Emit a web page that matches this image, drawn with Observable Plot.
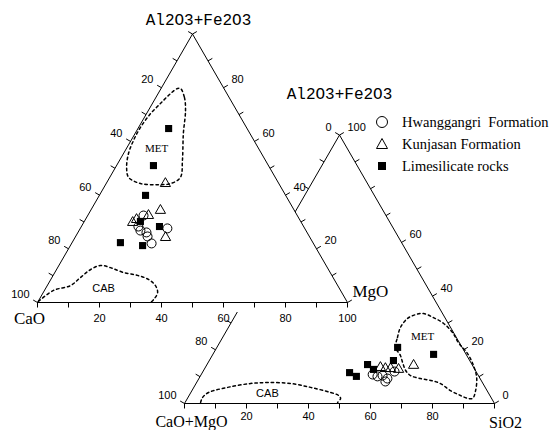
<!DOCTYPE html>
<html><head><meta charset="utf-8">
<script src="https://cdn.jsdelivr.net/npm/d3@7"></script>
<script src="https://cdn.jsdelivr.net/npm/@observablehq/plot@0.6"></script>
<style>
body{margin:0;background:#fff;}
#wrap{position:relative;width:557px;height:430px;overflow:hidden;}
#legend{position:absolute;left:374px;top:111px;font-family:"Liberation Serif",serif;font-size:14.5px;color:#000;}
.row{display:flex;align-items:center;height:22px;white-space:pre;}
.row svg{width:16px;height:16px;margin-right:12px;flex:none;}
</style></head><body><div id="wrap"><div id="chart"></div><div id="legend"></div></div>
<script>
// ---------- DATA ----------
const groups = ["Hwanggangri  Formation", "Kunjasan Formation", "Limesilicate rocks"];
const tickValues = [0,10,20,30,40,50,60,70,80,90,100];
// Diagram A : CaO - MgO - Al2O3+Fe2O3   pairs = [MgO, Al2O3+Fe2O3] (CaO = rest)
const aHwang = [[18.0,32.4],[28.1,27.6],[18.4,28.3],[19.8,26.8],[22.1,26.1],[23.2,24.6],[25.8,22.0]];
const aKunj  = [[19.1,44.3],[22.5,34.3],[19.6,32.4],[15.8,29.8],[16.5,30.9],[29.2,24.2]];
const aLime  = [[9.9,64.8],[11.9,51.0],[14.9,39.9],[18.1,30.2],[25.2,28.3],[15.6,22.3],[23.3,21.2]];
const aMET = [[6.3,79.7],[9.2,76.4],[12.0,71.5],[15.6,62.9],[20.3,52.9],[22.8,46.6],[20.8,44.3],[16.8,43.9],[11.1,44.3],[6.1,46.6],[3.6,50.3],[1.6,55.5],[0.8,60.3],[0.6,65.2],[1.3,70.4],[2.6,74.1],[4.0,77.8],[5.3,79.7]];
const aCAB = [[0.1,0.4],[2.9,4.5],[7.5,6.3],[9.2,9.3],[11.0,12.3],[13.4,13.8],[17.0,13.0],[22.1,11.2],[27.2,10.1],[31.5,8.6],[34.9,6.3],[36.9,3.7],[37.0,1.5],[36.5,0]];
const aLabels = {base:[20,40,60,80,100], left:[20,40,60,80,100], right:[80,60,40,20]};
// Diagram B : CaO+MgO - SiO2 - Al2O3+Fe2O3   pairs = [SiO2, Al2O3+Fe2O3]
const bHwang = [[55.3,10.8],[57.2,10.1],[58.7,10.4],[60.8,9.3],[60.7,8.2],[61.8,11.9]];
const bKunj  = [[66.8,14.2],[56.5,13.4],[58.3,13.0],[60.0,13.0],[62.7,12.7]];
const bLime  = [[58.3,20.9],[59.4,16.0],[71.2,18.3],[47.5,11.5],[50.4,10.1],[51.8,14.5],[54.6,12.7]];
const bMET = [[57.6,20.9],[56.4,24.6],[55.5,28.3],[56.1,31.7],[58.0,33.1],[60.4,33.5],[64.3,32.0],[68.7,29.8],[73.3,26.4],[77.0,22.7],[82.0,18.6],[86.1,14.2],[89.4,9.7],[91.5,4.8],[92.0,1.9],[90.4,1.9],[87.5,3.0],[83.4,4.8],[78.9,7.4],[75.1,8.6],[71.5,9.3],[67.7,10.4],[65.2,12.3],[62.7,15.3],[60.7,17.9]];
const bCAB = [[5.0,0.4],[4.7,2.2],[5.7,4.1],[10.9,6.0],[17.6,7.45],[22.9,7.8],[30.5,7.45],[37.7,6.0],[45.1,4.1],[48.2,3.0],[49.4,1.9],[49.2,0.4]];
const bLabels = {base:[20,40,60,80], left:[0,80,100], right:[100,60,40,20,0]};

// ---------- LAYOUT ----------
const W = 557, HT = 430, K = 3.1, H = Math.sqrt(3)/2;
const ax = 37, ay = 302;                 // pixel of diagram A's left vertex
const A0 = [0, 0];
const B0 = [(184 - ax)/K, (ay - 403)/K]; // diagram B's left vertex in units
const TL = 5/K;                          // tick length in units
const P = (o, s, a) => ({x: o[0] + s + a/2, y: o[1] + a*H});
const pts = (o, arr) => arr.map(([s,a]) => P(o, s, a));
const sans = "Liberation Sans, Arial, sans-serif";
const serif = "Liberation Serif, Times New Roman, serif";
const mono = "Liberation Mono, Courier New, monospace";

function frame(o){
  const v = [P(o,0,0), P(o,100,0), P(o,0,100), P(o,0,0)];
  const ticks = [];
  for (const t of tickValues) {
    const b = P(o,t,0); ticks.push({x1:b.x, y1:b.y, x2:b.x, y2:b.y - TL});
    const l = P(o,0,100-t); ticks.push({x1:l.x, y1:l.y, x2:l.x - H*TL, y2:l.y + 0.5*TL});
    const r = P(o,100-t,t); ticks.push({x1:r.x, y1:r.y, x2:r.x + H*TL, y2:r.y + 0.5*TL});
  }
  return {v, ticks};
}
function axisLabels(o, L, baseDy){
  return [
    Plot.text(L.base.map(t => ({...P(o,t,0), t})), {x:"x", y:"y", text:"t", dy: baseDy, fontSize:11, fontFamily:sans}),
    Plot.text(L.left.map(t => ({...P(o,0,100-t), t})), {x:"x", y:"y", text:"t", dx:-8, dy:-8, textAnchor:"end", fontSize:11, fontFamily:sans}),
    Plot.text(L.right.map(t => ({...P(o,100-t,t), t})), {x:"x", y:"y", text:"t", dx:8, dy:-8, textAnchor:"start", fontSize:11, fontFamily:sans})
  ];
}
function dataMarks(o, hw, kj, lm){
  return [
    Plot.dot(pts(o,hw), {x:"x", y:"y", r:4.5, stroke:"black", strokeWidth:1, fill:"none"}),
    Plot.dot(pts(o,kj), {x:"x", y:"y", symbol:"triangle", r:3.8, stroke:"black", strokeWidth:1, fill:"none"}),
    Plot.dot(pts(o,lm), {x:"x", y:"y", symbol:"square", r:4, fill:"black", stroke:"none"})
  ];
}
const dash = {x:"x", y:"y", stroke:"black", strokeWidth:1.5, strokeDasharray:"2.5,3"};

const fA = frame(A0), fB = frame(B0);
const band = 10/K;
const coverA = [
  {x:P(A0,0,0).x, y1:-band, y2:0},
  {x:P(A0,0,100).x, y1:-band, y2:P(A0,0,100).y},
  {x:P(A0,100,0).x, y1:-band, y2:0}
];

const chart = Plot.plot({
  width: W, height: HT, margin: 0,
  x: {domain: [-ax/K, (W-ax)/K], range: [0, W], axis: null},
  y: {domain: [(ay-HT)/K, ay/K], range: [HT, 0], axis: null},
  style: {background: "white"},
  marks: [
    // ----- diagram B (behind) -----
    Plot.line(fB.v, {x:"x", y:"y", stroke:"black", strokeWidth:1}),
    Plot.link(fB.ticks, {x1:"x1", y1:"y1", x2:"x2", y2:"y2", stroke:"black", strokeWidth:1}),
    ...axisLabels(B0, bLabels, 13),
    Plot.line(pts(B0,bMET), {...dash, curve:"catmull-rom-closed"}),
    Plot.line(pts(B0,bCAB), {...dash, curve:"catmull-rom"}),
    Plot.text([P(B0,64.3,25.0)], {x:"x", y:"y", text:() => "MET", fontSize:11, fontFamily:serif}),
    Plot.text([P(B0,24.9,3.7)], {x:"x", y:"y", text:() => "CAB", fontSize:11, fontFamily:sans}),
    ...dataMarks(B0, bHwang, bKunj, bLime),
    Plot.text([P(B0,0,100)], {x:"x", y:"y", text:() => "Al2O3+Fe2O3", dy:-41, fontSize:16, fontFamily:mono}),
    Plot.text([P(B0,0,0)], {x:"x", y:"y", text:() => "CaO+MgO", dx:7, dy:18, fontSize:16, fontFamily:serif}),
    Plot.text([P(B0,100,0)], {x:"x", y:"y", text:() => "SiO2", dx:11, dy:19, fontSize:16, fontFamily:serif}),
    // ----- diagram A (front) -----
    Plot.areaY(coverA, {x:"x", y1:"y1", y2:"y2", fill:"white"}),
    Plot.line(fA.v, {x:"x", y:"y", stroke:"black", strokeWidth:1}),
    Plot.link(fA.ticks, {x1:"x1", y1:"y1", x2:"x2", y2:"y2", stroke:"black", strokeWidth:1}),
    ...axisLabels(A0, aLabels, 16),
    Plot.line(pts(A0,aMET), {...dash, curve:"catmull-rom-closed"}),
    Plot.line(pts(A0,aCAB), {...dash, curve:"catmull-rom"}),
    Plot.text([P(A0,9.7,57.4)], {x:"x", y:"y", text:() => "MET", fontSize:11, fontFamily:serif}),
    Plot.text([P(A0,18.7,5.2)], {x:"x", y:"y", text:() => "CAB", fontSize:11, fontFamily:sans}),
    ...dataMarks(A0, aHwang, aKunj, aLime),
    Plot.text([P(A0,0,100)], {x:"x", y:"y", text:() => "Al2O3+Fe2O3", dx:6, dy:-14, fontSize:16, fontFamily:mono}),
    Plot.text([P(A0,0,0)], {x:"x", y:"y", text:() => "CaO", dx:-8, dy:16, fontSize:17, fontFamily:serif}),
    Plot.text([P(A0,100,0)], {x:"x", y:"y", text:() => "MgO", dx:5, dy:-11, textAnchor:"start", fontSize:17, fontFamily:serif})
  ]
});
document.getElementById("chart").appendChild(chart);

// ---------- LEGEND ----------
const sym = [
  '<circle cx="8" cy="8" r="5.5" fill="none" stroke="black" stroke-width="1"/>',
  '<path d="M8,2.5 L13.5,12.5 L2.5,12.5 Z" fill="none" stroke="black" stroke-width="1"/>',
  '<rect x="4" y="4" width="8" height="8" fill="black"/>'
];
document.getElementById("legend").innerHTML = groups.map((g,i) =>
  `<div class="row"><svg viewBox="0 0 16 16">${sym[i]}</svg><span>${g}</span></div>`).join("");
</script>
</body></html>
